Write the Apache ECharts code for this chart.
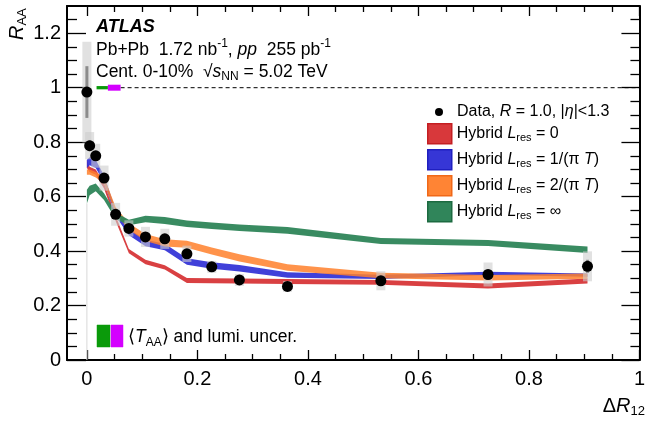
<!DOCTYPE html>
<html>
<head>
<meta charset="utf-8">
<script src="https://cdn.jsdelivr.net/npm/echarts@6/dist/echarts.min.js"></script>
<style>
html,body{margin:0;padding:0;background:#fff;}
#chart{width:648px;height:422px;}
</style>
</head>
<body>
<div id="chart"></div>
<script>
// ---- data ----
const DR   = [0, 0.005, 0.016, 0.031, 0.052, 0.076, 0.106, 0.141, 0.181, 0.226, 0.276, 0.363, 0.532, 0.726, 0.906];
const RAA  = [0.984, 0.787, 0.750, 0.668, 0.535, 0.483, 0.452, 0.445, 0.390, 0.342, 0.294, 0.270, 0.291, 0.314, 0.344];
const STAT = [0.095, 0.02, 0.015, 0.015, 0.012, 0.01, 0.01, 0.01, 0.01, 0.008, 0.008, 0.008, 0.012, 0.018, 0.024];
const SYS  = [0.185, 0.05, 0.044, 0.046, 0.042, 0.03, 0.037, 0.037, 0.03, 0.022, 0.022, 0.02, 0.035, 0.044, 0.055];

const RED_LO    = [0.705, 0.69, 0.68, 0.63, 0.51, 0.392, 0.352, 0.332, 0.283, 0.282, 0.281, 0.279, 0.276, 0.263, 0.281];
const RED_HI    = [0.735, 0.71, 0.70, 0.65, 0.53, 0.408, 0.368, 0.348, 0.301, 0.300, 0.299, 0.297, 0.294, 0.281, 0.299];
const BLUE_LO   = [0.705, 0.715, 0.705, 0.652, 0.528, 0.458, 0.418, 0.403, 0.35, 0.335, 0.325, 0.302, 0.297, 0.312, 0.306];
const BLUE_HI   = [0.735, 0.745, 0.735, 0.678, 0.552, 0.482, 0.442, 0.427, 0.374, 0.359, 0.349, 0.322, 0.313, 0.324, 0.318];
const ORANGE_LO = [0.68, 0.68, 0.67, 0.648, 0.538, 0.478, 0.437, 0.417, 0.412, 0.387, 0.362, 0.328, 0.30, 0.292, 0.298];
const ORANGE_HI = [0.70, 0.70, 0.69, 0.672, 0.562, 0.502, 0.463, 0.443, 0.438, 0.413, 0.388, 0.352, 0.32, 0.312, 0.318];
const GREEN_LO  = [0.575, 0.605, 0.62, 0.588, 0.518, 0.495, 0.506, 0.499, 0.488, 0.481, 0.474, 0.464, 0.426, 0.419, 0.393];
const GREEN_HI  = [0.625, 0.64, 0.648, 0.612, 0.542, 0.515, 0.53, 0.525, 0.512, 0.505, 0.498, 0.488, 0.448, 0.441, 0.417];

const NORM_TAA  = 0.006;   // <T_AA> uncertainty at R_AA = 1
const NORM_LUMI = 0.011;   // luminosity uncertainty at R_AA = 1

const X_MAJOR = [0, 0.2, 0.4, 0.6, 0.8, 1];
const Y_MAJOR = [0, 0.2, 0.4, 0.6, 0.8, 1, 1.2];
const X_MIN = -0.036, X_MAX = 1.0, Y_MIN = 0, Y_MAX = 1.3;

const NAMES = {
  data: 'Data, R = 1.0, |η|<1.3',
  red: 'Hybrid Lres = 0',
  blue: 'Hybrid Lres = 1/(π T)',
  orange: 'Hybrid Lres = 2/(π T)',
  green: 'Hybrid Lres = ∞'
};

// ---- helpers ----
function minorTicks(lo, hi, step, majors) {
  const out = [];
  for (let k = Math.ceil(lo / step - 1e-9); k * step <= hi + 1e-9; k++) {
    const v = +(k * step).toFixed(4);
    if (v <= lo + 1e-9 || v >= hi - 1e-9) continue;
    if (majors.some(m => Math.abs(m - v) < 1e-6)) continue;
    out.push(v);
  }
  return out;
}
const X_MINOR = minorTicks(X_MIN, X_MAX, 0.05, X_MAJOR);
const Y_MINOR = minorTicks(Y_MIN, Y_MAX, 0.05, Y_MAJOR);

const FONT = '"Liberation Sans", Arial, Helvetica, sans-serif';

function bandSeries(name, fill, lo, hi, z) {
  return {
    type: 'custom', name: name, z: z,
    xAxisIndex: 0, yAxisIndex: 0,
    itemStyle: { color: fill },
    data: DR.map((x, i) => [x, lo[i], hi[i]]),
    encode: { x: 0, y: [1, 2] },
    renderItem: function (params, api) {
      if (params.dataIndex !== 0) return null;
      const pts = [];
      for (let i = 0; i < DR.length; i++) pts.push(api.coord([DR[i], hi[i]]));
      for (let i = DR.length - 1; i >= 0; i--) pts.push(api.coord([DR[i], lo[i]]));
      return { type: 'polygon', shape: { points: pts }, style: { fill: fill } };
    }
  };
}

function axisX(pos, len, values, showLabel, showLine) {
  return {
    type: 'value', position: pos, min: X_MIN, max: X_MAX,
    axisLine: { show: showLine, onZero: false, lineStyle: { color: '#000', width: 2 } },
    axisTick: { show: true, inside: true, length: len, customValues: values, lineStyle: { color: '#000', width: 1.3 } },
    axisLabel: showLabel ? { show: true, customValues: values, color: '#000', fontSize: 20, fontFamily: FONT, margin: 9 } : { show: false },
    splitLine: { show: false }
  };
}
function axisY(pos, len, values, showLabel, showLine) {
  return {
    type: 'value', position: pos, min: Y_MIN, max: Y_MAX,
    axisLine: { show: showLine, onZero: false, lineStyle: { color: '#000', width: 2 } },
    axisTick: { show: true, inside: true, length: len, customValues: values, lineStyle: { color: '#000', width: 1.3 } },
    axisLabel: showLabel ? { show: true, customValues: values, color: '#000', fontSize: 20, fontFamily: FONT, margin: 6 } : { show: false },
    splitLine: { show: false }
  };
}

const chart = echarts.init(document.getElementById('chart'), null, { renderer: 'canvas' });

const legendRich = {
  t: { fontSize: 16, fontFamily: FONT, color: '#000' },
  i: { fontSize: 16, fontFamily: FONT, fontStyle: 'italic', color: '#000' },
  s: { fontSize: 11, fontFamily: FONT, color: '#000', padding: [9, 0, 0, 0] }
};
function legendFmt(name) {
  switch (name) {
    case NAMES.data: return '{t|Data, }{i|R}{t| = 1.0, |}{i|η}{t||<1.3}';
    case NAMES.red: return '{t|Hybrid }{i|L}{s|res}{t| = 0}';
    case NAMES.blue: return '{t|Hybrid }{i|L}{s|res}{t| = 1/(π }{i|T}{t|)}';
    case NAMES.orange: return '{t|Hybrid }{i|L}{s|res}{t| = 2/(π }{i|T}{t|)}';
    case NAMES.green: return '{t|Hybrid }{i|L}{s|res}{t| = ∞}';
  }
  return name;
}

const TXT = 17.5;
const option = {
  animation: false,
  backgroundColor: '#fff',
  grid: { left: 67, right: 5, top: 6, bottom: 62, containLabel: false },
  xAxis: [
    axisX('bottom', 10, X_MAJOR, true, true),
    axisX('bottom', 6, X_MINOR, false, false),
    axisX('top', 10, X_MAJOR, false, true),
    axisX('top', 6, X_MINOR, false, false)
  ],
  yAxis: [
    axisY('left', 19, Y_MAJOR, true, true),
    axisY('left', 10, Y_MINOR, false, false),
    axisY('right', 18, Y_MAJOR, false, true),
    axisY('right', 9, Y_MINOR, false, false)
  ],
  legend: [
    {
      left: 435, top: 104, orient: 'vertical', padding: 0,
      itemWidth: 8, itemHeight: 8, selectedMode: false,
      data: [{ name: NAMES.data, icon: 'circle', itemStyle: { color: '#000' } }],
      formatter: legendFmt,
      textStyle: { rich: legendRich, padding: [0, 0, 0, 9] }
    },
    {
      left: 427, top: 123, orient: 'vertical', padding: 0,
      itemWidth: 24, itemHeight: 20, itemGap: 4.5, selectedMode: false,
      data: [
        { name: NAMES.red, icon: 'rect', itemStyle: { color: '#d8383b', borderColor: '#c41e22', borderWidth: 1.5 } },
        { name: NAMES.blue, icon: 'rect', itemStyle: { color: '#3636d6', borderColor: '#1f1fbf', borderWidth: 1.5 } },
        { name: NAMES.orange, icon: 'rect', itemStyle: { color: '#ff8434', borderColor: '#f06818', borderWidth: 1.5 } },
        { name: NAMES.green, icon: 'rect', itemStyle: { color: '#30855a', borderColor: '#1c6a40', borderWidth: 1.5 } }
      ],
      formatter: legendFmt,
      textStyle: { rich: legendRich }
    }
  ],
  graphic: [
    { type: 'text', x: 96, y: 27, style: { text: 'ATLAS', font: 'italic bold 18px ' + FONT, fill: '#000', verticalAlign: 'middle' } },
    { type: 'text', x: 96, y: 50, style: {
        text: '{t|Pb+Pb  1.72 nb}{u|-1}{t|, }{i|pp}{t|  255 pb}{u|-1}',
        verticalAlign: 'middle',
        rich: {
          t: { fontSize: TXT, fontFamily: FONT, fill: '#000' },
          i: { fontSize: TXT, fontFamily: FONT, fontStyle: 'italic', fill: '#000' },
          u: { fontSize: 12, fontFamily: FONT, fill: '#000', padding: [0, 0, 12, 0] }
        } } },
    { type: 'text', x: 96, y: 72, style: {
        text: '{t|Cent. 0-10%  √}{i|s}{s|NN}{t| = 5.02 TeV}',
        verticalAlign: 'middle',
        rich: {
          t: { fontSize: TXT, fontFamily: FONT, fill: '#000' },
          i: { fontSize: TXT, fontFamily: FONT, fontStyle: 'italic', fill: '#000' },
          s: { fontSize: 12, fontFamily: FONT, fill: '#000', padding: [10, 0, 0, 0] }
        } } },
    // y-axis title
    { type: 'text', x: 17, y: 40, rotation: Math.PI / 2, style: {
        text: '{r|R}{s|AA}', align: 'left', verticalAlign: 'middle',
        rich: {
          r: { fontSize: 20, fontFamily: FONT, fontStyle: 'italic', fill: '#000' },
          s: { fontSize: 13, fontFamily: FONT, fill: '#000', padding: [10, 0, 0, 0] }
        } } },
    // x-axis title
    { type: 'text', x: 645, y: 406, style: {
        text: '{n|Δ}{r|R}{s|12}', align: 'right', verticalAlign: 'middle',
        rich: {
          n: { fontSize: 20, fontFamily: FONT, fill: '#000' },
          r: { fontSize: 20, fontFamily: FONT, fontStyle: 'italic', fill: '#000' },
          s: { fontSize: 13, fontFamily: FONT, fill: '#000', padding: [10, 0, 0, 0] }
        } } },
    // normalization legend
    { type: 'rect', shape: { x: 97, y: 325, width: 13, height: 22 }, style: { fill: '#0a9a0a', stroke: '#0a9a0a', lineWidth: 0.5 } },
    { type: 'rect', shape: { x: 111, y: 325, width: 12, height: 22 }, style: { fill: '#d400ff', stroke: '#d400ff', lineWidth: 0.5 } },
    { type: 'text', x: 128, y: 337, style: {
        text: '{t|⟨}{i|T}{s|AA}{t|⟩ and lumi. uncer.}', verticalAlign: 'middle',
        rich: {
          t: { fontSize: TXT, fontFamily: FONT, fill: '#000' },
          i: { fontSize: TXT, fontFamily: FONT, fontStyle: 'italic', fill: '#000' },
          s: { fontSize: 12, fontFamily: FONT, fill: '#000', padding: [11, 0, 0, 0] }
        } } }
  ],
  series: [
    // faint vertical edge at ΔR = 0
    { type: 'line', name: 'edge', silent: true, symbol: 'none', z: 1,
      data: [[0, 0], [0, GREEN_LO[0]]], lineStyle: { color: '#d8d8d8', width: 1 } },
    bandSeries(NAMES.red, 'rgba(214,48,50,0.92)', RED_LO, RED_HI, 2),
    bandSeries(NAMES.blue, 'rgba(48,48,214,0.92)', BLUE_LO, BLUE_HI, 3),
    bandSeries(NAMES.orange, 'rgba(255,128,44,0.85)', ORANGE_LO, ORANGE_HI, 4),
    bandSeries(NAMES.green, 'rgba(46,133,88,0.95)', GREEN_LO, GREEN_HI, 5),
    // unity line
    { type: 'line', name: 'unity', silent: true, symbol: 'none', z: 6,
      data: [[0.061, 1], [X_MAX, 1]], lineStyle: { color: '#000', width: 1, type: [4, 3] } },
    // normalization uncertainties at unity
    { type: 'custom', name: 'norm', z: 7, silent: true,
      data: [[1, NORM_TAA, NORM_LUMI]],
      renderItem: function (params, api) {
        const c = api.value(0), t = api.value(1), l = api.value(2);
        const g0 = api.coord([0.0175, c + t]), g1 = api.coord([0.038, c - t]);
        const m0 = api.coord([0.038, c + l]), m1 = api.coord([0.061, c - l]);
        return { type: 'group', children: [
          { type: 'rect', shape: { x: g0[0], y: g0[1], width: g1[0] - g0[0], height: g1[1] - g0[1] }, style: { fill: '#0a9a0a' } },
          { type: 'rect', shape: { x: m0[0], y: m0[1], width: m1[0] - m0[0], height: m1[1] - m0[1] }, style: { fill: '#d400ff' } }
        ] };
      } },
    // data uncertainties
    { type: 'custom', name: 'errors', z: 8, silent: true,
      data: DR.map((x, i) => [x, RAA[i], SYS[i], STAT[i]]),
      encode: { x: 0, y: 1 },
      renderItem: function (params, api) {
        const x = api.value(0), y = api.value(1), sy = api.value(2), st = api.value(3);
        const top = api.coord([x, y + sy]), bot = api.coord([x, y - sy]);
        const s0 = api.coord([x, y + st]), s1 = api.coord([x, y - st]);
        const hw = 4.5;
        return { type: 'group', children: [
          { type: 'rect', shape: { x: top[0] - hw, y: top[1], width: 2 * hw, height: bot[1] - top[1] },
            style: { fill: 'rgba(205,205,205,0.6)' } },
          { type: 'line', shape: { x1: s0[0], y1: s0[1], x2: s1[0], y2: s1[1] },
            style: { stroke: '#8c8c8c', lineWidth: 3 } }
        ] };
      } },
    { type: 'scatter', name: NAMES.data, z: 9,
      data: DR.map((x, i) => [x, RAA[i]]),
      symbol: 'circle', symbolSize: 11, itemStyle: { color: '#000', opacity: 1 } }
  ]
};
chart.setOption(option);
</script>
</body>
</html>
